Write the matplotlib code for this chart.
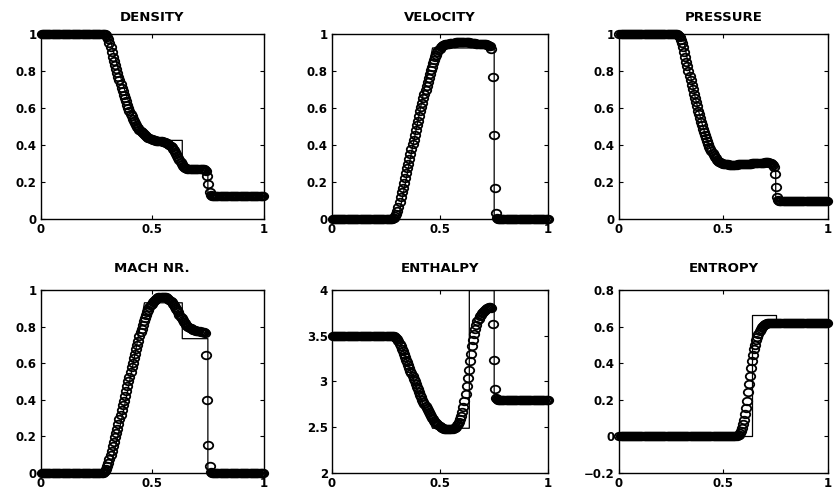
import numpy as np
import matplotlib
matplotlib.use("Agg")
import matplotlib.pyplot as plt
from matplotlib.path import Path
from matplotlib.transforms import Affine2D

plt.rcParams['font.family'] = ['DejaVu Sans']
plt.rcParams['font.weight'] = 'bold'

# ============================================
# DATA
# ============================================

n_cells = 200
x_cells = (np.arange(n_cells) + 0.5) / n_cells

# numerical solution, one value per cell
density = ([1.0] * 58
           + [0.995, 0.988, 0.975, 0.955, 0.93, 0.905, 0.88, 0.858, 0.836, 0.814,
              0.793, 0.772, 0.752, 0.732, 0.712, 0.693, 0.674, 0.655, 0.637, 0.619,
              0.602, 0.586, 0.571, 0.556, 0.543, 0.531, 0.520, 0.510, 0.501, 0.493,
              0.485, 0.478, 0.471, 0.465, 0.459, 0.454, 0.449, 0.445, 0.441, 0.437,
              0.434, 0.431, 0.429, 0.427]
           + [0.426, 0.425, 0.424, 0.423, 0.422, 0.421, 0.420, 0.419, 0.418, 0.416, 0.414]
           + [0.411, 0.407, 0.402, 0.396, 0.389, 0.381, 0.372, 0.362, 0.351, 0.340,
              0.329, 0.318, 0.307, 0.297, 0.289, 0.282, 0.277, 0.274, 0.272]
           + [0.27] * 14
           + [0.269, 0.267, 0.262, 0.235, 0.19, 0.145, 0.128]
           + [0.125] * 47)

velocity = ([0.0] * 56
            + [0.003, 0.008, 0.016, 0.028, 0.045, 0.067, 0.092, 0.118, 0.144, 0.170,
               0.196, 0.222, 0.248, 0.274, 0.300, 0.326, 0.352, 0.378, 0.404, 0.430,
               0.456, 0.482, 0.508, 0.533, 0.558, 0.583, 0.607, 0.631, 0.655, 0.678,
               0.701, 0.723, 0.745, 0.766, 0.786, 0.806, 0.825, 0.843, 0.860, 0.876,
               0.891, 0.904, 0.915, 0.924, 0.931, 0.937, 0.941, 0.944]
            + [0.946, 0.948, 0.949, 0.950, 0.951, 0.952]
            + [0.953, 0.954, 0.955, 0.956, 0.957, 0.958, 0.958, 0.959, 0.959, 0.960,
               0.960, 0.960, 0.960, 0.959, 0.959, 0.958, 0.957, 0.956, 0.955, 0.954]
            + [0.953, 0.952, 0.952, 0.951, 0.951, 0.950, 0.950, 0.949, 0.949, 0.948,
               0.948, 0.947, 0.946, 0.945, 0.943, 0.940]
            + [0.935, 0.92, 0.77, 0.455, 0.17, 0.03, 0.004]
            + [0.0] * 47)

pressure = ([1.0] * 56
            + [0.998, 0.994, 0.986, 0.972, 0.953, 0.930, 0.905, 0.879, 0.853, 0.827,
               0.801, 0.776, 0.751, 0.726, 0.702, 0.678, 0.655, 0.632, 0.610, 0.588,
               0.567, 0.546, 0.526, 0.507, 0.488, 0.470, 0.453, 0.437, 0.421, 0.406,
               0.392, 0.379, 0.367, 0.356, 0.346, 0.337, 0.329, 0.322, 0.316, 0.311,
               0.307, 0.304, 0.302, 0.300]
            + [0.299, 0.298, 0.297, 0.296, 0.296, 0.295, 0.295, 0.295, 0.295, 0.295,
               0.295, 0.295, 0.295, 0.296, 0.296, 0.296, 0.297, 0.297, 0.297, 0.298,
               0.298, 0.298, 0.299, 0.299, 0.300, 0.300]
            + [0.300, 0.301, 0.301, 0.302, 0.302, 0.303, 0.303, 0.304, 0.304, 0.305,
               0.305, 0.306, 0.306, 0.307, 0.307, 0.307, 0.307, 0.306, 0.305, 0.303]
            + [0.300, 0.295, 0.28, 0.245, 0.172, 0.118, 0.104]
            + [0.1] * 47)

mach = ([0.0] * 55
        + [0.002, 0.006, 0.012, 0.022, 0.036, 0.054, 0.075, 0.098, 0.122, 0.146,
           0.170, 0.194, 0.218, 0.243, 0.268, 0.293, 0.318, 0.344, 0.370, 0.396,
           0.422, 0.448, 0.474, 0.500, 0.526, 0.552, 0.577, 0.602, 0.627, 0.652,
           0.676, 0.700, 0.723, 0.746, 0.768, 0.789, 0.809, 0.828, 0.846, 0.863,
           0.878, 0.892, 0.905, 0.916, 0.926, 0.934, 0.941, 0.947, 0.952, 0.956,
           0.959, 0.961, 0.963, 0.964, 0.964, 0.963, 0.962, 0.959, 0.956, 0.951,
           0.946, 0.940, 0.933, 0.925, 0.917, 0.908, 0.898, 0.888, 0.877, 0.866,
           0.855, 0.845, 0.835, 0.826, 0.818, 0.811, 0.804, 0.799, 0.794, 0.790,
           0.787, 0.784, 0.781, 0.779, 0.777, 0.776, 0.775, 0.774, 0.773, 0.772,
           0.771, 0.770, 0.765, 0.645, 0.40, 0.155, 0.036, 0.004]
        + [0.0] * 47)

enthalpy = ([3.5] * 57
            + [3.497, 3.49, 3.478, 3.46, 3.438, 3.413, 3.386, 3.358, 3.329, 3.3,
               3.27, 3.24, 3.21, 3.18, 3.15, 3.12, 3.09, 3.06, 3.03, 3.0,
               2.971, 2.942, 2.913, 2.885, 2.857, 2.83, 2.803, 2.777, 2.752, 2.728,
               2.705, 2.683, 2.662, 2.642, 2.623, 2.605, 2.588, 2.572, 2.558, 2.545,
               2.533, 2.522, 2.512, 2.504, 2.497, 2.491, 2.486, 2.482, 2.479, 2.477,
               2.476, 2.476, 2.477, 2.479, 2.483, 2.489, 2.497, 2.508, 2.522, 2.54,
               2.562, 2.59, 2.625, 2.67, 2.725, 2.79, 2.865, 2.95, 3.04, 3.13,
               3.22, 3.305, 3.385, 3.455, 3.52, 3.575, 3.62, 3.657, 3.687, 3.712,
               3.732, 3.749, 3.763, 3.775, 3.785, 3.793, 3.8, 3.806, 3.81, 3.812,
               3.80, 3.63, 3.23, 2.92, 2.82, 2.805]
            + [2.8] * 47)

entropy = ([0.0] * 112
           + [0.002, 0.005, 0.01, 0.018, 0.03, 0.045, 0.065, 0.09, 0.12, 0.155,
              0.195, 0.24, 0.285, 0.33, 0.372, 0.41, 0.445, 0.475, 0.502, 0.525,
              0.545, 0.562, 0.576, 0.587, 0.596, 0.603, 0.608, 0.612, 0.615, 0.617,
              0.618]
           + [0.617] * 57)

# exact solution, breakpoints of the solid line
x_exact = [0.0, 0.305, 0.325, 0.345, 0.365, 0.385, 0.405, 0.425, 0.445, 0.465, 0.635, 0.635, 0.75, 0.75, 1.0]
density_exact = [1, 1, 0.911, 0.823, 0.741, 0.667, 0.599, 0.536, 0.478, 0.426, 0.426, 0.266, 0.266, 0.125, 0.125]
velocity_exact = [0, 0, 0.110, 0.227, 0.344, 0.460, 0.577, 0.694, 0.811, 0.927, 0.927, 0.927, 0.927, 0, 0]
pressure_exact = [1, 1, 0.877, 0.761, 0.658, 0.567, 0.488, 0.418, 0.356, 0.303, 0.303, 0.303, 0.303, 0.1, 0.1]
mach_exact = [0, 0, 0.095, 0.199, 0.308, 0.422, 0.541, 0.665, 0.794, 0.930, 0.930, 0.734, 0.734, 0, 0]
enthalpy_exact = [3.5, 3.5, 3.370, 3.236, 3.105, 2.976, 2.850, 2.727, 2.606, 2.489, 2.489, 3.994, 3.994, 2.8, 2.8]
entropy_exact = [0, 0, 0, 0, 0, 0, 0, 0, 0, 0, 0, 0.663, 0.663, 0.609, 0.609]

titles = ['DENSITY', 'VELOCITY', 'PRESSURE', 'MACH NR.', 'ENTHALPY', 'ENTROPY']

unit_ticks = [0, 0.2, 0.4, 0.6, 0.8, 1]
unit_labels = ['0', '0.2', '0.4', '0.6', '0.8', '1']
enthalpy_ticks = [2, 2.5, 3, 3.5, 4]
enthalpy_labels = ['2', '2.5', '3', '3.5', '4']
entropy_ticks = [-0.2, 0, 0.2, 0.4, 0.6, 0.8]
entropy_labels = ['\u22120.2', '0', '0.2', '0.4', '0.6', '0.8']
x_ticks = [0, 0.5, 1]
x_labels = ['0', '0.5', '1']

# ============================================
# PLOT
# ============================================

# the scan is a bit stretched sideways, so the circles are slightly flat
oval = Path.unit_circle().transformed(Affine2D().scale(1.0, 0.8))

fig = plt.figure(figsize=(8.36, 4.9), dpi=100)

col_left = [0.049, 0.3971, 0.7404]
col_width = [0.2662, 0.2587, 0.2500]
row_bottom = [0.5531, 0.0347]
row_height = [0.3765, 0.3735]
title_pad = [9.5, 13]

panels = [
    (density, density_exact, (0, 1), unit_ticks, unit_labels),
    (velocity, velocity_exact, (0, 1), unit_ticks, unit_labels),
    (pressure, pressure_exact, (0, 1), unit_ticks, unit_labels),
    (mach, mach_exact, (0, 1), unit_ticks, unit_labels),
    (enthalpy, enthalpy_exact, (2, 4), enthalpy_ticks, enthalpy_labels),
    (entropy, entropy_exact, (-0.2, 0.8), entropy_ticks, entropy_labels),
]

for k, (num, exact, ylim, yt, ytl) in enumerate(panels):
    r, c = divmod(k, 3)
    ax = fig.add_axes([col_left[c], row_bottom[r], col_width[c], row_height[r]])
    ax.plot(x_exact, exact, color='black', lw=0.9, zorder=2)
    ax.plot(x_cells, num, linestyle='none', marker=oval, markersize=6.8,
            markerfacecolor='none', markeredgecolor='black', markeredgewidth=1.3,
            clip_on=False, zorder=3)
    ax.set_xlim(0, 1)
    ax.set_ylim(*ylim)
    ax.set_xticks(x_ticks)
    ax.set_xticklabels(x_labels)
    ax.set_yticks(yt)
    ax.set_yticklabels(ytl)
    ax.tick_params(direction='in', top=True, right=True, length=3, width=0.8,
                   labelsize=8.5, pad=3)
    for lab in ax.get_xticklabels() + ax.get_yticklabels():
        lab.set_fontweight('bold')
    for sp in ax.spines.values():
        sp.set_linewidth(1.0)
    ax.set_title(titles[k], fontsize=9.5, fontweight='bold', pad=title_pad[r])

fig.savefig('out.png', dpi=100)
